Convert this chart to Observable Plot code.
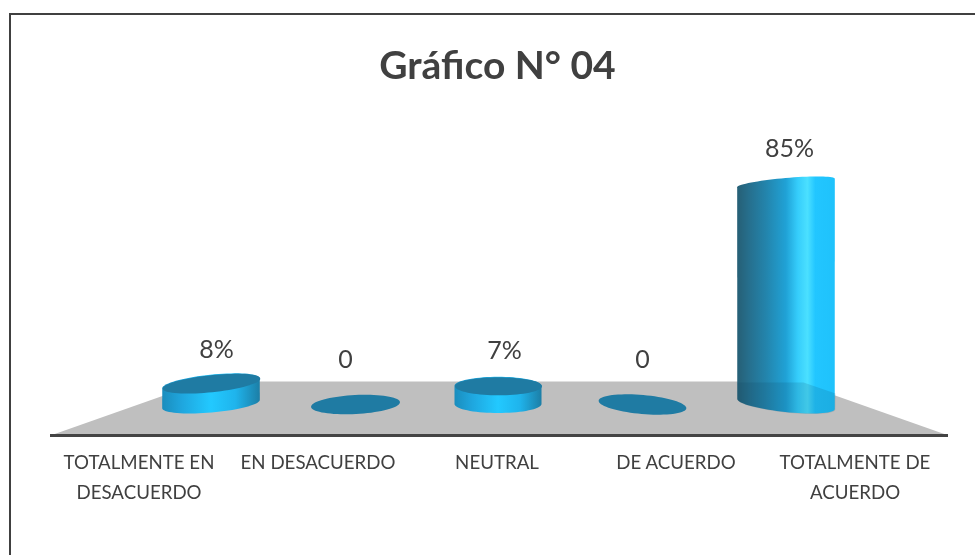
<!DOCTYPE html>
<html><head><meta charset="utf-8">
<script src="https://cdn.jsdelivr.net/npm/d3@7"></script>
<script src="https://cdn.jsdelivr.net/npm/@observablehq/plot@0.6"></script>
<style>
html,body{margin:0;padding:0;background:#fff;overflow:hidden}
#wrap{position:relative;width:975px;height:555px}
#edge{position:absolute;left:9px;top:13px;right:0;bottom:0;border-left:2px solid #404040;border-top:2px solid #404040}
#chart{position:absolute;left:0;top:0}
svg{display:block;filter:blur(.45px)}
</style></head><body>
<div id="wrap"><div id="edge"></div><div id="chart"></div></div>
<script>
const chartTitle = "Gráfico N° 04";
const categories = ["TOTALMENTE EN\nDESACUERDO", "EN DESACUERDO", "NEUTRAL", "DE ACUERDO", "TOTALMENTE DE\nACUERDO"];
const values = [8, 0, 7, 0, 85];
const valueLabels = ["8%", "0", "7%", "0", "85%"];

// perspective styling of each cylinder (pixels / degrees, not data)
const shiftX = [72.5, 37.5, 1.5, -33.5, -68.5];
const halfWidth = [49, 44.5, 43.5, 44, 49];
const topRadiusY = [8.5, 9.5, 9, 9.5, 5];
const baseRadiusY = [8.5, 9.5, 9, 9.5, 8];
const topTilt = [-6, -3, 0, 5, -5];
const baseTilt = [-5, -3, 0, 5, 6];
const labelDx = [5, -10, 6, 0, 3];
const labelDy = [-34, -45, -35, -45, -35];
const bodyFill = ["url(#short)", "none", "url(#short)", "none", "url(#tall)"];
const capFill = ["#1f7ba3", "#1f7ba3", "#1f7ba3", "#1f7ba3", "none"];

const rows = categories.map((category, i) => ({category, value: values[i], label: valueLabels[i], i}));

function ellipsePoint(rx, ry, deg, a) {
  const t = deg * Math.PI / 180, ex = rx * Math.cos(a), ey = ry * Math.sin(a);
  return [ex * Math.cos(t) - ey * Math.sin(t), ex * Math.sin(t) + ey * Math.cos(t)];
}
function halfArc(rx, ry, deg, from, to, steps = 36) {
  return d3.range(steps + 1).map(k => ellipsePoint(rx, ry, deg, from + (to - from) * k / steps));
}
function polygonSymbol(points) {
  return {draw(ctx) {
    points.forEach(([a, b], k) => k ? ctx.lineTo(a, b) : ctx.moveTo(a, b));
    ctx.closePath();
  }};
}
const ellipseSymbol = (rx, ry, deg) => polygonSymbol(halfArc(rx, ry, deg, 0, 2 * Math.PI, 72));

// turns the bar's rect into a cylinder silhouette, keeping the position the scales gave it
function cylinderBody(i) {
  return (index, scales, channels, dims, ctx, next) => {
    const g = next(index, scales, channels, dims, ctx);
    g.querySelectorAll("rect").forEach(rect => {
      const x = +rect.getAttribute("x"), y = +rect.getAttribute("y");
      const w = +rect.getAttribute("width"), h = +rect.getAttribute("height");
      const cx = x + w / 2, rx = w / 2;
      const upper = halfArc(rx, topRadiusY[i], topTilt[i], Math.PI, 2 * Math.PI).map(([a, b]) => [cx + a, y + b]);
      const lower = halfArc(rx, baseRadiusY[i], baseTilt[i], 0, Math.PI).map(([a, b]) => [cx + a, y + h + b]);
      const path = document.createElementNS("http://www.w3.org/2000/svg", "path");
      path.setAttribute("d", "M" + upper.concat(lower).join("L") + "Z");
      path.setAttribute("fill", bodyFill[i]);
      rect.replaceWith(path);
    });
    return g;
  };
}

function gradient(defs, id, stops) {
  const g = defs.append("linearGradient").attr("id", id).attr("x1", 0).attr("x2", 1).attr("y1", 0).attr("y2", 0);
  stops.forEach(([o, c]) => g.append("stop").attr("offset", o).attr("stop-color", c));
}
const defsMark = () => {
  const defs = d3.create("svg:defs");
  gradient(defs, "short", [[0, "#1a8dbd"], [.2, "#1fa6de"], [.5, "#22c9ff"], [.75, "#1fb4ec"], [1, "#1c7ea6"]]);
  gradient(defs, "tall", [[0, "#265f75"], [.12, "#266f8d"], [.3, "#2385ad"], [.5, "#20a2d6"], [.62, "#35cdfb"], [.72, "#4be0ff"], [.8, "#22c6ff"], [1, "#1fc2fb"]]);
  return defs.node();
};

const cylinders = rows.flatMap(({value, i}) => {
  const one = [rows[i]];
  const marks = [];
  if (value > 0) {
    const inset = 89.5 - halfWidth[i];
    marks.push(Plot.barY(one, {x: "category", y: "value", dx: shiftX[i], insetLeft: inset, insetRight: inset, fill: bodyFill[i], render: cylinderBody(i)}));
  }
  if (capFill[i] !== "none") {
    marks.push(Plot.dot(one, {x: "category", y: "value", r: 5, dx: shiftX[i], symbol: ellipseSymbol(halfWidth[i], topRadiusY[i], topTilt[i]), fill: capFill[i], stroke: "none"}));
  }
  return marks;
});
const valueTexts = rows.map(({i}) => Plot.text([rows[i]], {x: "category", y: "value", text: "label", dx: shiftX[i] + labelDx[i], dy: labelDy[i], fontSize: 25, fill: "#404040"}));

// the floor as seen through the foot of the tall cylinder
const seeThrough = polygonSymbol([[-49, -22], [17, -22], [49, -11], ...halfArc(49, 8, 6, 0, Math.PI)]);

const chart = Plot.plot({
  width: 975, height: 555,
  marginTop: 0, marginLeft: 50, marginRight: 27, marginBottom: 120,
  x: {domain: categories, range: [49, 944], padding: 0, label: null},
  y: {domain: [-11.92, 155.39], range: [435, 0], axis: null},
  style: {background: "transparent", fontFamily: "Lato, 'Open Sans', sans-serif", overflow: "visible"},
  marks: [
    defsMark,
    Plot.dot([categories[2]], {x: d => d, y: () => 0, r: 5, fill: "#bfbfbf", stroke: "none",
      symbol: polygonSymbol([[-446.5, 31], [451.5, 31], [298.5, -23], [-293.5, -23]])}),
    Plot.ruleY([-11.92], {stroke: "#444", strokeWidth: 3}),
    ...cylinders,
    Plot.dot([categories[4]], {x: d => d, y: () => 0, r: 5, dx: shiftX[4], fill: "#063a55", fillOpacity: 0.14, stroke: "none", symbol: seeThrough}),
    ...valueTexts,
    Plot.axisX({anchor: "bottom", tickSize: 0, tickPadding: 12, lineHeight: 1.6, fontSize: 18.7, label: null, tickFormat: d => d, fill: "#404040"}),
    Plot.text([chartTitle], {frameAnchor: "top", dx: -2, dy: 51, fontSize: 39, fontWeight: 700, fill: "#404040", text: d => d})
  ]
});
document.getElementById("chart").append(chart);
</script>
</body></html>
